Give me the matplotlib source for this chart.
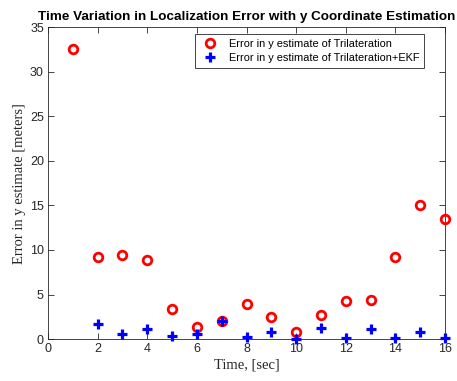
import matplotlib
matplotlib.use("Agg")
import matplotlib.pyplot as plt

t = list(range(1, 17))
err_tri = [32.5, 9.2, 9.4, 8.9, 3.4, 1.4, 2.05, 3.9, 2.5, 0.85, 2.7, 4.3, 4.4, 9.2, 15.0, 13.5]
t_ekf = list(range(2, 17))
err_ekf = [1.65, 0.62, 1.1, 0.35, 0.52, 2.05, 0.2, 0.82, 0.05, 1.28, 0.1, 1.12, 0.1, 0.82, 0.1]

fig = plt.figure(figsize=(4.57, 3.81), dpi=100)
ax = fig.add_axes([0.105, 0.110, 0.869, 0.819])

ax.plot(t, err_tri, 'o', mfc='none', mec='red', mew=2.0, ms=6.2, clip_on=False, zorder=3,
        label='Error in y estimate of Trilateration')
ax.plot(t_ekf, err_ekf, '+', color='blue', mew=2.3, ms=6.5, clip_on=False, zorder=4,
        label='Error in y estimate of Trilateration+EKF')

ax.set_xlim(0, 16)
ax.set_ylim(0, 35)
ax.set_xticks(range(0, 17, 2))
ax.set_yticks(range(0, 36, 5))
ax.tick_params(direction='in', top=True, right=True, length=4, width=0.6,
               colors='#262626', labelsize=9, pad=3)
for lab in ax.get_xticklabels() + ax.get_yticklabels():
    lab.set_family('Liberation Sans')
for s in ax.spines.values():
    s.set_color('#262626')
    s.set_linewidth(0.6)

ax.set_xlabel('Time, [sec]', family='Liberation Serif', fontsize=10.5, color='#262626', labelpad=2)
ax.set_ylabel('Error in y estimate [meters]', family='Liberation Serif', fontsize=10.5, color='#262626', labelpad=3)
ax.set_title('Time Variation in Localization Error with y Coordinate Estimation',
             family='Liberation Sans', fontweight='bold', fontsize=9.7, pad=5)

leg = ax.legend(loc='upper right', bbox_to_anchor=(0.947, 0.978), borderaxespad=0,
                prop={'family': 'Liberation Sans', 'size': 7.9},
                fancybox=False, edgecolor='#262626', framealpha=1, borderpad=0.45,
                handletextpad=0.8, labelspacing=0.35, handlelength=1.8)
leg.get_frame().set_linewidth(0.6)

fig.savefig('out.png', dpi=100)
